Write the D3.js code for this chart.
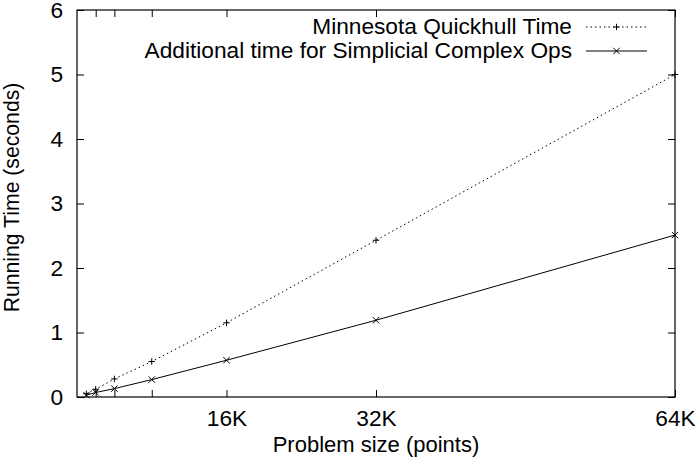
<!DOCTYPE html>
<html>
<head>
<meta charset="utf-8">
<script src="https://cdn.jsdelivr.net/npm/d3@7/dist/d3.min.js"></script>
<style>
  html, body { margin: 0; padding: 0; background: #fff; }
  svg { display: block; }
  text { font-family: "Liberation Sans", Arial, Helvetica, sans-serif; fill: #000; }
</style>
</head>
<body>
<svg id="chart" width="697" height="457"></svg>
<script>
// ---- data ----
const problemSizes = [1024, 2048, 4096, 8192, 16384, 32768, 65536];
const quickhullTime = [0.05, 0.12, 0.28, 0.55, 1.15, 2.43, 5.0];
const simplicialTime = [0.03, 0.07, 0.13, 0.27, 0.57, 1.19, 2.51];
const seriesNames = ["Minnesota Quickhull Time", "Additional time for Simplicial Complex Ops"];
const xTickValues = [2048, 4096, 8192, 16384, 32768, 65536];
const xTickLabels = ["", "", "", "16K", "32K", "64K"];
const yTickValues = [0, 1, 2, 3, 4, 5, 6];
const xTitle = "Problem size (points)";
const yTitle = "Running Time (seconds)";

// ---- layout ----
const W = 697, H = 457;
const L = 77, R = 675, T = 10, B = 397;
const fs = 22.7;
const svg = d3.select("#chart");

const x = d3.scaleLinear().domain([0, 65536]).range([L, R]);
const y = d3.scaleLinear().domain([0, 6]).range([B, T]);

const tickLen = 7;
// bottom axis
const xAxisB = d3.axisBottom(x).tickValues(xTickValues)
  .tickFormat((d, i) => xTickLabels[i]).tickSizeInner(-tickLen).tickSizeOuter(0).tickPadding(13);
const gxb = svg.append("g").attr("transform", `translate(0,${B})`).call(xAxisB);
// top axis
const xAxisT = d3.axisTop(x).tickValues(xTickValues).tickFormat("").tickSizeInner(-tickLen).tickSizeOuter(0);
const gxt = svg.append("g").attr("transform", `translate(0,${T})`).call(xAxisT);
// left axis
const yAxisL = d3.axisLeft(y).tickValues(yTickValues).tickFormat(d3.format("d"))
  .tickSizeInner(-tickLen).tickSizeOuter(0).tickPadding(14);
const gyl = svg.append("g").attr("transform", `translate(${L},0)`).call(yAxisL);
// right axis
const yAxisR = d3.axisRight(y).tickValues(yTickValues).tickFormat("").tickSizeInner(-tickLen).tickSizeOuter(0);
const gyr = svg.append("g").attr("transform", `translate(${R},0)`).call(yAxisR);

[gxb, gxt, gyl, gyr].forEach(g => {
  g.select(".domain").remove();
  g.selectAll(".tick line").attr("stroke", "#000").attr("stroke-width", 1);
  g.selectAll("text").style("font-size", fs + "px").attr("fill", "#000")
    .style("font-family", '"Liberation Sans", Arial, sans-serif');
});

// frame
svg.append("rect").attr("x", L).attr("y", T).attr("width", R - L).attr("height", B - T)
  .attr("fill", "none").attr("stroke", "#000").attr("stroke-width", 1.2);

// titles
svg.append("text").attr("x", (L + R) / 2).attr("y", 452).attr("text-anchor", "middle")
  .style("font-size", "22px").text(xTitle);
svg.append("text").attr("transform", `translate(19,${(T + B) / 2 - 6}) rotate(-90)`)
  .attr("text-anchor", "middle").style("font-size", (fs - 1.5) + "px").text(yTitle);

// series
const line = d3.line().x(d => x(d[0])).y(d => y(d[1]));
const s1 = problemSizes.map((p, i) => [p, quickhullTime[i]]);
const s2 = problemSizes.map((p, i) => [p, simplicialTime[i]]);
const ms = 3.2;

function plus(g, cx, cy) {
  g.append("path").attr("d", `M${cx - ms},${cy}H${cx + ms}M${cx},${cy - ms}V${cy + ms}`)
    .attr("stroke", "#000").attr("stroke-width", 1).attr("fill", "none");
}
function cross(g, cx, cy) {
  g.append("path").attr("d", `M${cx - ms},${cy - ms}L${cx + ms},${cy + ms}M${cx - ms},${cy + ms}L${cx + ms},${cy - ms}`)
    .attr("stroke", "#000").attr("stroke-width", 1).attr("fill", "none");
}

const gData = svg.append("g");
gData.append("path").datum(s1).attr("d", line).attr("fill", "none")
  .attr("stroke", "#000").attr("stroke-width", 1).attr("stroke-dasharray", "1.5,3");
s1.forEach(d => plus(gData, x(d[0]), y(d[1])));
gData.append("path").datum(s2).attr("d", line).attr("fill", "none")
  .attr("stroke", "#000").attr("stroke-width", 1);
s2.forEach(d => cross(gData, x(d[0]), y(d[1])));

// legend
const lg = svg.append("g");
const legY = [27, 51];
const lx0 = 586, lx1 = 647, textRight = 572;
seriesNames.forEach((name, i) => {
  lg.append("text").attr("x", textRight).attr("y", legY[i] + 6.5).attr("text-anchor", "end")
    .style("font-size", fs + "px").text(name);
  lg.append("line").attr("x1", lx0).attr("x2", lx1).attr("y1", legY[i]).attr("y2", legY[i])
    .attr("stroke", "#000").attr("stroke-width", 1)
    .attr("stroke-dasharray", i === 0 ? "1.5,3" : null);
  if (i === 0) plus(lg, (lx0 + lx1) / 2, legY[i]); else cross(lg, (lx0 + lx1) / 2, legY[i]);
});
</script>
</body>
</html>
